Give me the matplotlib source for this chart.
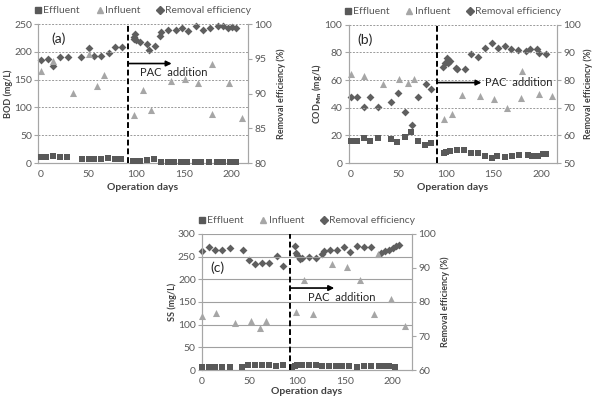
import matplotlib
matplotlib.use("Agg")
import matplotlib.pyplot as plt
from matplotlib.lines import Line2D

plt.rcParams['font.family'] = ['Lato', 'DejaVu Sans']

# ---------------- data: panel (a) BOD ----------------
a_eff_day = [0, 5.5, 13, 20, 27, 43, 50, 56, 63, 70, 77.6, 84,
             96.8, 100, 103.8, 110.8, 118.4, 125.7, 132.7, 139.6, 146.6, 153.6,
             161.2, 168.2, 175.9, 185, 190.8, 197.8, 204.8]
a_eff = [11, 11, 13, 10, 10.5, 8, 7.5, 8, 8, 8.5, 7.5, 7.5,
         4, 4, 4.5, 6, 7, 2.5, 2.5, 2.5, 2.5, 2.5,
         2.5, 2.5, 2.5, 1.5, 1.5, 1.5, 1.5]
a_inf_day = [0, 13, 34, 50, 59, 66, 97.5, 106.6, 115, 136, 151, 165, 179, 179, 197, 211]
a_inf = [165.7, 183.6, 126.8, 195.6, 138.8, 158.5, 86.7, 131.6, 95.7, 147.7, 150.7,
         143.5, 178.2, 88.5, 143.5, 80.7]
a_rem_day = [0, 7, 13, 20, 28, 42, 50, 56, 63, 71, 78, 85,
             97, 99, 97.5, 100, 104, 111, 113, 120, 125, 126, 133, 142, 148, 154,
             163, 170, 177, 186, 191, 196, 200, 205]
a_rem = [94.8, 94.9, 94.0, 95.3, 95.2, 95.2, 96.6, 95.4, 95.4, 95.9, 96.7, 96.7,
         98.2, 98.5, 97.8, 97.7, 97.4, 97.2, 96.3, 96.9, 98.3, 98.9, 99.2, 99.2, 99.5, 99.0,
         99.7, 99.2, 99.5, 99.7, 99.7, 99.4, 99.6, 99.5]

# ---------------- data: panel (b) COD_Mn ----------------
b_eff_day = [0.3, 6.6, 14.2, 20.1, 28.8, 42, 49, 56.7, 63.7, 70.6, 78.6, 84.9,
             97.7, 100.5, 104.7, 111.7, 119.3, 126.6, 133.6, 141.2, 148.2, 154,
             162, 169, 176.7, 185.8, 191, 196.9, 202, 205.6]
b_eff = [16.1, 16.1, 18.3, 16.1, 18.3, 17.3, 14.9, 19.0, 22.4, 16.1, 13.2, 14.4,
         7.1, 8.0, 8.8, 9.5, 9.5, 7.1, 7.3, 5.4, 3.9, 5.4,
         4.6, 4.9, 5.9, 5.9, 5.4, 5.4, 6.6, 6.8]
b_inf_day = [0, 14.6, 34, 50.4, 60, 66.8, 98, 107, 116.5, 136, 150.6, 164.5, 179.8, 179, 198, 211.5]
b_inf = [64.4, 63.2, 57, 60.6, 58.2, 60.6, 31.7, 35.3, 49, 48.6, 46.2, 39.7, 66.8, 47.4, 49.8, 48.6]
b_rem_day = [0, 7, 14.6, 20.9, 28.5, 42.4, 49.4, 56.7, 64.3, 70.3, 79, 84.5,
             97.4, 99, 100.9, 102.6, 104, 111, 112, 120, 126.3, 134, 141.6, 148.5, 154.8,
             162.4, 168.7, 176.3, 184.3, 188.5, 195.8, 198, 205]
b_rem = [73.8, 73.8, 70.4, 73.8, 70.4, 72.1, 75.5, 68.6, 63.8, 73.8, 78.6, 76.7,
         84.9, 86.3, 87.9, 86.1, 86.9, 84.5, 83.9, 84.1, 89.4, 88.2, 91.8, 93.3, 91.5,
         92.4, 91.1, 90.9, 90.6, 91.2, 91.2, 89.9, 89.4]

# ---------------- data: panel (c) SS ----------------
c_eff_day = [0, 7, 14, 21, 28.8, 42, 48, 56, 63, 70, 78, 85,
             94.7, 97.2, 100, 105, 112, 120, 126, 133, 140, 147, 154,
             163, 170, 177, 186, 191, 196, 202]
c_eff = [7, 7, 7, 7, 7, 7, 10, 12, 10, 10, 9, 12,
         6, 8, 10, 10, 10, 10, 8, 8, 8, 8, 8,
         6, 8, 8, 8, 8, 8, 7]
c_inf_day = [0, 14.7, 34.4, 50.9, 60.4, 66.7, 99, 107, 116.5, 136.8, 152, 165.6, 180.7, 184, 198, 213]
c_inf = [120, 126.5, 103.4, 108.5, 92.6, 108.5, 128.7, 198.8, 123.6, 233.5, 226.3, 198.8,
         123.6, 255, 157.6, 96.2]
c_rem_day = [0, 7, 14, 21, 28.8, 42.8, 49, 56, 63, 70, 79, 85.3,
             97.5, 99, 100, 102.5, 105, 112, 120, 126.3, 128, 134, 141, 148.4, 155,
             163, 170, 177, 187.7, 192, 196.5, 200, 203.5, 207]
c_rem = [95.0, 96.1, 95.3, 95.3, 95.8, 95.3, 92.4, 91.1, 91.4, 91.4, 93.5, 90.5,
         96.6, 94.5, 93.7, 92.6, 92.9, 93.1, 92.8, 94.0, 95.0, 95.2, 95.2, 96.1, 94.7,
         96.4, 96.1, 96.1, 94.5, 95.0, 95.2, 95.9, 96.4, 96.7]

series_labels = ["Effluent", "Influent", "Removal efficiency"]
x_ticks = [0, 50, 100, 150, 200]

EFF_C = '#595959'
INF_C = '#a6a6a6'
REM_C = '#5f5f5f'
TXT_C = '#595959'
SPINE_C = '#a6a6a6'

fig = plt.figure(figsize=(5.96, 3.97), dpi=100)


def panel(rect, xlim, eff_day, eff, inf_day, inf, rem_day, rem,
          ylim, yticks, y2lim, y2ticks, ylabel, tag, tag_xy,
          pac_day, arrow_y, arrow_end, text_xy, text_ha, grid_style, xlabel_pad, y2pad):
    ax = fig.add_axes(rect)
    ax2 = ax.twinx()
    ax.set_zorder(ax2.get_zorder() + 1)
    ax.patch.set_visible(False)

    ax.set_xlim(*xlim)
    ax.set_ylim(*ylim)
    ax.set_yticks(yticks)
    ax.set_xticks(x_ticks)
    ax2.set_ylim(*y2lim)
    ax2.set_yticks(y2ticks)

    for a in (ax, ax2):
        a.spines['top'].set_visible(False)
        for s in ('left', 'right', 'bottom'):
            a.spines[s].set_color(SPINE_C)
            a.spines[s].set_linewidth(0.8)
        a.tick_params(colors=TXT_C, labelsize=7.5, length=3, width=0.8, color=SPINE_C, pad=1.5)
    ax.tick_params(axis='x', length=0, pad=5)

    for v in yticks[1:]:
        if grid_style == 'dotted':
            ax.axhline(v, color='#9a9a9a', lw=0.7, ls=(0, (2, 1.5)), zorder=0)
        else:
            ax.axhline(v, color='#a0a0a0', lw=0.8, ls='-', zorder=0)

    ax.scatter(eff_day, eff, marker='s', s=14, color=EFF_C, zorder=3, clip_on=False, linewidths=0)
    ax.scatter(inf_day, inf, marker='^', s=26, color=INF_C, zorder=3, clip_on=False, linewidths=0)
    ax2.scatter(rem_day, rem, marker='D', s=16, color=REM_C, zorder=3, clip_on=False, linewidths=0)

    ax.axvline(pac_day, color='black', lw=1.4, ls=(0, (3, 1.5)), zorder=4)
    ax.annotate('', xy=(arrow_end, arrow_y), xytext=(pac_day, arrow_y),
                arrowprops=dict(arrowstyle='-|>', color='black', lw=1.2,
                                mutation_scale=8, shrinkA=0, shrinkB=0), zorder=5)
    ax.text(text_xy[0], text_xy[1], 'PAC  addition', fontsize=8, color='#262626',
            ha=text_ha, va='center', zorder=5)
    ax.text(tag_xy[0], tag_xy[1], tag, fontsize=10, color='#262626', ha='center', va='center')

    ax.set_ylabel(ylabel, fontsize=6.5, fontweight='bold', color='#404040', labelpad=0.5)
    ax2.set_ylabel('Removal efficiency (%)', fontsize=6.5, fontweight='bold', color='#404040',
                   labelpad=y2pad)
    ax.set_xlabel('Operation days', fontsize=7.5, fontweight='bold', color='#404040',
                  labelpad=xlabel_pad)

    handles = [Line2D([], [], ls='', marker='s', ms=3.8, color=EFF_C),
               Line2D([], [], ls='', marker='^', ms=5, color=INF_C),
               Line2D([], [], ls='', marker='D', ms=3.6, color=REM_C)]
    leg = ax.legend(handles, series_labels, ncol=3, loc='lower center',
                    bbox_to_anchor=(0.5, 1.01), frameon=False, fontsize=7.5,
                    handlelength=0.6, handletextpad=0.2, columnspacing=1.6,
                    borderaxespad=0.3)
    for t in leg.get_texts():
        t.set_color(TXT_C)
    return ax, ax2


panel([0.064, 0.5894, 0.352, 0.350], (-3, 217),
      a_eff_day, a_eff, a_inf_day, a_inf, a_rem_day, a_rem,
      (0, 250), [0, 50, 100, 150, 200, 250], (80, 100), [80, 85, 90, 95, 100],
      'BOD (mg/L)', '(a)', (18.5, 224),
      91.5, 179, 137, (138.7, 163), 'center', 'dotted', 3, 3)

panel([0.585, 0.5894, 0.350, 0.348], (-2, 217),
      b_eff_day, b_eff, b_inf_day, b_inf, b_rem_day, b_rem,
      (0, 100), [0, 20, 40, 60, 80, 100], (50, 100), [50, 60, 70, 80, 90, 100],
      r'COD$_{\mathbf{Mn}}$ (mg/L)', '(b)', (15.7, 89),
      91, 58.2, 137.4, (141, 58.2), 'left', 'dotted', 3, 1.5)

panel([0.339, 0.0680, 0.352, 0.3426], (0, 220),
      c_eff_day, c_eff, c_inf_day, c_inf, c_rem_day, c_rem,
      (0, 300), [0, 50, 100, 150, 200, 250, 300], (60, 100), [60, 70, 80, 90, 100],
      'SS (mg/L)', '(c)', (15.8, 226),
      92, 180.8, 138.6, (147, 161), 'center', 'solid', 0.5, 3)

fig.savefig('out.png', dpi=100)
